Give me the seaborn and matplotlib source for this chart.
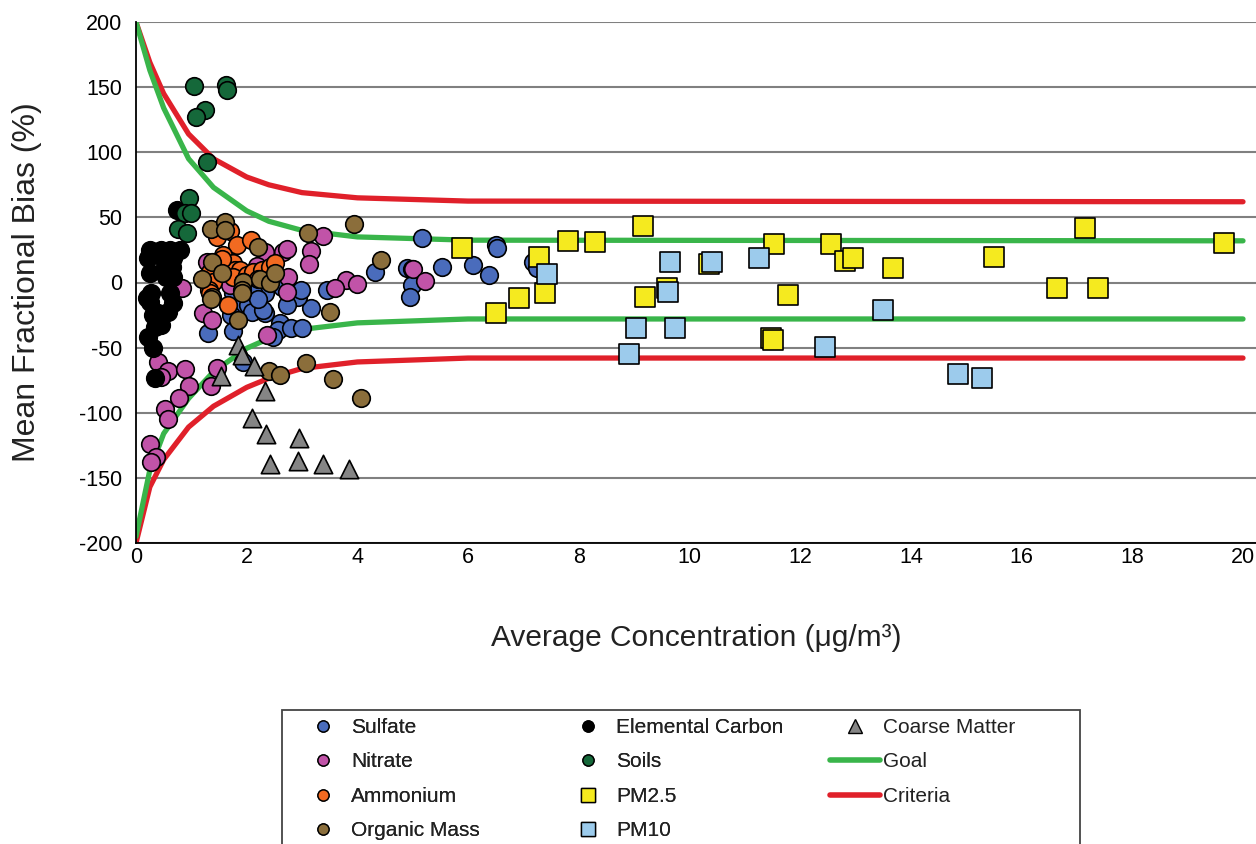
import matplotlib
matplotlib.use("Agg")
import matplotlib.pyplot as plt
import seaborn as sns
import pandas as pd
from matplotlib.lines import Line2D
from matplotlib.patches import Rectangle

# ---------------- data ----------------
sulfate_x = [1.75, 2.15, 2.33, 1.85, 2.03, 2.09, 2.33, 1.72, 1.30, 1.75, 2.60, 2.57, 2.80, 3.00,
             2.48, 1.94, 2.12, 2.30, 3.17, 3.45, 2.63, 2.78, 2.93, 2.72, 5.16, 6.50, 6.52, 4.32,
             4.89, 4.98, 5.52, 6.08, 6.38, 4.99, 4.95, 2.99, 7.18, 7.24, 2.20]
sulfate_y = [-8.3, -9.6, -8.3, -18.6, -17.3, -22.4, -23.7, -25.0, -38.5, -37.5, -31.0, -36.5, -35.2, -35.0,
             -42.0, -60.8, -7.0, -21.0, -19.8, -5.5, -3.2, -7.0, -10.9, -17.3, 33.9, 28.8, 26.3, 8.3,
             10.9, 10.4, 12.1, 13.4, 5.8, -1.9, -10.9, -5.8, 16.0, 10.9, -13.0]

nitrate_x = [0.25, 0.36, 0.27, 0.40, 0.57, 0.45, 0.89, 0.95, 0.77, 0.52, 0.57, 1.47, 1.36, 1.21,
             1.38, 2.37, 0.83, 3.37, 3.17, 3.13, 2.66, 2.72, 2.33, 2.18, 1.28, 2.75, 2.72, 1.70,
             3.79, 4.00, 3.60, 5.01, 5.23, 1.55]
nitrate_y = [-124.0, -133.7, -138.0, -61.3, -67.7, -72.8, -66.4, -79.5, -88.4, -97.4, -104.8, -65.6, -79.5, -23.5,
             -28.8, -40.0, -4.5, 35.5, 24.0, 14.0, 23.7, 25.5, 23.7, 13.0, 16.0, 4.5, -7.0, -2.0,
             1.9, -1.2, -4.5, 10.4, 1.2, 12.0]

ammonium_x = [1.46, 1.70, 1.82, 2.07, 1.58, 1.64, 1.76, 1.79, 1.88, 1.76, 1.34, 1.40, 1.31, 2.00,
              2.12, 2.27, 2.42, 2.51, 1.94, 1.67, 1.34, 1.55, 2.20]
ammonium_y = [35.0, 39.5, 28.5, 32.6, 21.0, 12.0, 14.7, 9.6, 9.6, 4.5, 8.3, 0.6, -5.8, 5.8,
              8.3, 9.6, 12.0, 14.7, 0.6, -17.3, -8.3, 18.0, 3.0]

organic_x = [1.36, 1.61, 1.61, 3.10, 3.93, 2.20, 4.43, 1.37, 1.55, 1.20, 1.94, 2.24, 2.42, 2.51,
             1.91, 1.37, 1.35, 1.84, 2.40, 2.60, 3.50, 3.07, 3.56, 4.06, 1.91]
organic_y = [41.0, 46.5, 40.3, 37.8, 45.2, 27.0, 17.5, 16.0, 7.5, 2.5, 0.6, 2.7, -0.6, 7.5,
             -5.8, -10.9, -13.0, -28.8, -68.0, -71.0, -22.9, -61.5, -74.0, -89.0, -8.3]

ec_x = [0.74, 0.25, 0.46, 0.61, 0.80, 0.22, 0.49, 0.67, 0.52, 0.65, 0.25, 0.55, 0.67, 0.28,
        0.25, 0.61, 0.67, 0.58, 0.40, 0.46, 0.34, 0.22, 0.31, 0.34, 0.20, 0.30]
ec_y = [55.7, 25.0, 25.0, 25.0, 25.0, 18.6, 18.6, 18.6, 12.0, 12.0, 7.0, 4.5, 4.5, -8.3,
        -14.7, -8.3, -16.0, -22.4, -23.7, -32.6, -34.0, -41.6, -50.5, -73.6, -12.0, -25.0]

soils_x = [1.05, 1.63, 1.64, 1.25, 1.08, 1.29, 0.96, 0.89, 0.99, 0.75, 0.93]
soils_y = [150.9, 151.6, 147.7, 132.4, 126.8, 92.8, 64.6, 53.0, 53.0, 41.0, 37.8]

pm25_x = [5.89, 7.28, 7.80, 8.29, 9.16, 7.39, 6.92, 6.50, 9.19, 9.59, 10.35, 11.52, 11.47, 11.50,
          11.78, 12.56, 12.81, 12.95, 13.68, 15.50, 16.64, 17.38, 17.15, 19.66]
pm25_y = [26.5, 19.6, 31.9, 31.1, 43.4, -8.1, -11.9, -23.4, -11.1, -4.2, 14.2, 29.6, -42.6, -44.0,
          -9.6, 29.6, 16.5, 18.8, 11.1, 19.6, -4.2, -4.2, 41.8, 30.3]

pm10_x = [7.42, 9.65, 10.41, 9.61, 9.03, 9.74, 8.90, 11.26, 12.45, 13.50, 14.85, 15.28]
pm10_y = [6.5, 15.7, 15.7, -7.3, -34.9, -34.9, -54.9, 18.8, -49.5, -21.1, -70.2, -73.3]

coarse_x = [1.85, 1.91, 2.13, 1.53, 2.33, 2.09, 2.35, 2.94, 2.42, 2.93, 3.38, 3.84]
coarse_y = [-48.0, -55.7, -64.0, -71.8, -83.0, -104.0, -116.0, -119.6, -139.3, -136.8, -139.3, -143.4]

curve_x = [0, 0.25, 0.5, 0.95, 1.4, 2.0, 2.4, 3.0, 4.0, 6.0, 20.0]
goal_upper = [200, 163, 134, 95, 73, 55, 47, 40, 35, 32.5, 32]
criteria_upper = [200, 169, 145, 114, 95, 81, 75, 69, 65, 62.5, 62]
goal_lower = [-195, -144, -116, -89, -68.5, -50.5, -43, -36, -31, -28, -28]
criteria_lower = [-200, -157, -136, -111, -95, -80.5, -73.5, -66, -61, -58, -58]

y_ticks = [-200, -150, -100, -50, 0, 50, 100, 150, 200]
x_ticks = [0, 2, 4, 6, 8, 10, 12, 14, 16, 18, 20]

# ---------------- style ----------------
sns.set_theme(style="white")
plt.rcParams["font.family"] = ["Liberation Sans", "DejaVu Sans"]

C_SULF = "#4a6cbc"
C_NIT = "#c153a8"
C_AMM = "#f26a21"
C_ORG = "#8b6e3b"
C_EC = "#000000"
C_SOIL = "#15683a"
C_PM25 = "#f5ea1f"
C_PM10 = "#9ccbec"
C_COARSE = "#858585"
C_GOAL = "#39b54a"
C_CRIT = "#e0202a"

fig = plt.figure(figsize=(12.56, 8.44), dpi=100)
W, H = 1256, 844
ax = fig.add_axes([136 / W, 1 - 543 / H, (W - 136) / W, (543 - 22) / H])

# curves
lw = 3.8
curves = pd.DataFrame({"x": curve_x, "gu": goal_upper, "cu": criteria_upper,
                       "gl": goal_lower, "cl": criteria_lower})
sns.lineplot(data=curves, x="x", y="cu", color=C_CRIT, lw=lw, ax=ax, sort=False, estimator=None, zorder=3)
sns.lineplot(data=curves, x="x", y="cl", color=C_CRIT, lw=lw, ax=ax, sort=False, estimator=None, zorder=3)
sns.lineplot(data=curves, x="x", y="gu", color=C_GOAL, lw=lw, ax=ax, sort=False, estimator=None, zorder=3)
sns.lineplot(data=curves, x="x", y="gl", color=C_GOAL, lw=lw, ax=ax, sort=False, estimator=None, zorder=3)

series = [
    ("Sulfate", sulfate_x, sulfate_y, C_SULF, "o", 160),
    ("Nitrate", nitrate_x, nitrate_y, C_NIT, "o", 160),
    ("Ammonium", ammonium_x, ammonium_y, C_AMM, "o", 160),
    ("Organic Mass", organic_x, organic_y, C_ORG, "o", 160),
    ("Elemental Carbon", ec_x, ec_y, C_EC, "o", 160),
    ("Soils", soils_x, soils_y, C_SOIL, "o", 160),
    ("PM2.5", pm25_x, pm25_y, C_PM25, "s", 190),
    ("PM10", pm10_x, pm10_y, C_PM10, "s", 190),
    ("Coarse Matter", coarse_x, coarse_y, C_COARSE, "^", 175),
]
z = 4
for name, xs, ys, col, mk, s in series:
    sns.scatterplot(x=xs, y=ys, marker=mk, s=s, color=col, edgecolor="black",
                    linewidth=1.2, ax=ax, legend=False, zorder=z)
    z += 0.1

ax.set_xlim(0, 20 * (W - 136) / (1243 - 136))
ax.set_ylim(-200, 200)
ax.set_xticks(x_ticks)
ax.set_yticks(y_ticks)
ax.set_xticklabels([str(v) for v in x_ticks], fontsize=15.5)
ax.set_yticklabels([str(v) for v in y_ticks], fontsize=15.5)
ax.tick_params(axis="both", direction="out", width=1.2, colors="black")
ax.tick_params(axis="y", length=6, pad=4)
ax.tick_params(axis="x", length=4, pad=-1)

ax.yaxis.grid(True, color="#808080", lw=1.5, zorder=0)
ax.xaxis.grid(False)
ax.set_axisbelow(True)
for side in ["top", "right"]:
    ax.spines[side].set_visible(False)
for side in ["left", "bottom"]:
    ax.spines[side].set_color("black")
    ax.spines[side].set_linewidth(1.3)
    ax.spines[side].set_zorder(10)

ax.set_xlabel("Average Concentration (μg/m³)", fontsize=21.5, labelpad=40, color="#222222")
ax.set_ylabel("Mean Fractional Bias (%)", fontsize=23, labelpad=26, color="#222222")

# ---------------- legend ----------------
def mh(col, mk, ms):
    return Line2D([], [], marker=mk, color="none", markerfacecolor=col,
                  markeredgecolor="black", markeredgewidth=1.0, markersize=ms)

def lh(col):
    return Line2D([], [], color=col, lw=4)

col1 = [(mh(C_SULF, "o", 8), "Sulfate"), (mh(C_NIT, "o", 8), "Nitrate"),
        (mh(C_AMM, "o", 8), "Ammonium"), (mh(C_ORG, "o", 8), "Organic Mass")]
col2 = [(mh(C_EC, "o", 8), "Elemental Carbon"), (mh(C_SOIL, "o", 8), "Soils"),
        (mh(C_PM25, "s", 9.5), "PM2.5"), (mh(C_PM10, "s", 9.5), "PM10")]
col3 = [(mh(C_COARSE, "^", 9.5), "Coarse Matter"), (lh(C_GOAL), "Goal"), (lh(C_CRIT), "Criteria")]

legs = []
for entries, x0 in [(col1, 298), (col2, 563), (col3, 830)]:
    leg = fig.legend([e[0] for e in entries], [e[1] for e in entries],
                     loc="upper left", bbox_to_anchor=(x0 / W, 1 - 718 / H),
                     frameon=False, fontsize=15, handlelength=2.4, handletextpad=0.15,
                     borderpad=0, borderaxespad=0, labelspacing=0.74)
    for t in leg.get_texts():
        t.set_color("#222222")
    legs.append(leg)
for leg in legs[:-1]:
    fig.add_artist(leg)

fig.patches.append(Rectangle((282 / W, -0.05), (1080 - 282) / W, 0.05 + (844 - 710) / H,
                             transform=fig.transFigure, fill=False, edgecolor="#444444", lw=1.3))

fig.savefig("out.png", dpi=100, facecolor="white")
